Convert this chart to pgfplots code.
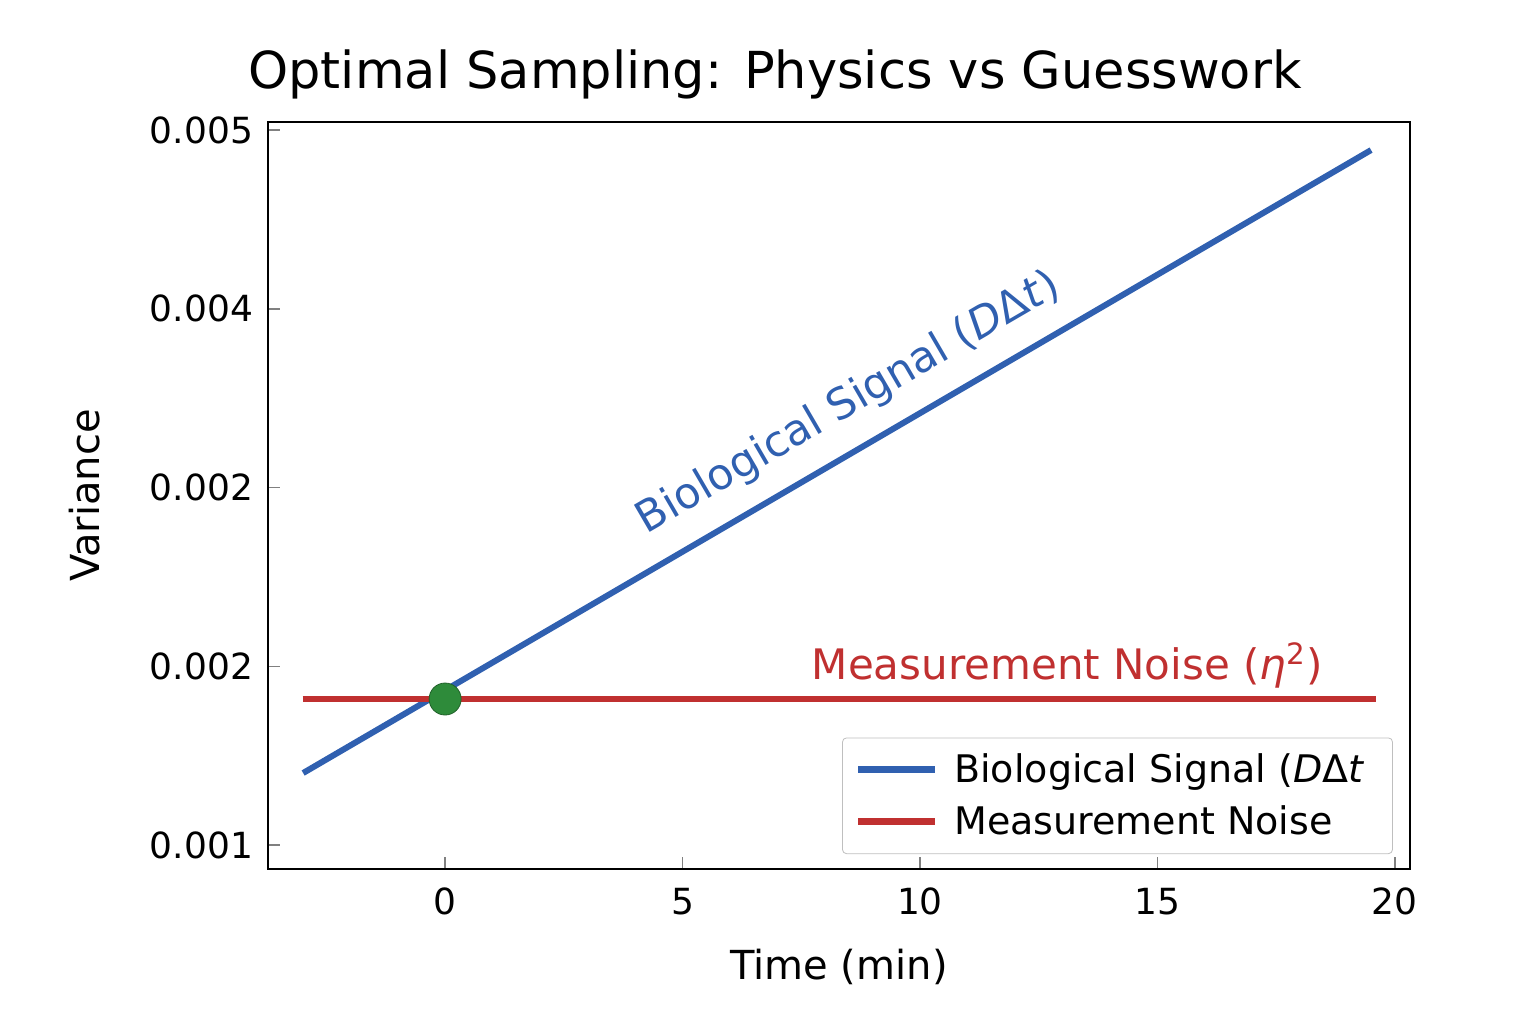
\documentclass[border=0pt]{standalone}
\usepackage{pgfplots}
\pgfplotsset{compat=1.18}
\usepackage{fontspec}
\setmainfont{DejaVu Sans}
\definecolor{bl}{HTML}{3060B0}
\definecolor{rd}{HTML}{C03030}
\definecolor{gr}{HTML}{2E8B3A}
\begin{document}
\begin{tikzpicture}
\begin{axis}[
  scale only axis, width=571pt, height=373.5pt,
  xmin=-3.73, xmax=20.32, ymin=0.000866, ymax=0.005045,
  xtick={0,5,10,15,20},
  ytick={0.001,0.002,0.003,0.004,0.005},
  yticklabels={0.001,0.002,0.002,0.004,0.005},
  xticklabels={0,5,10,15,20},
  scaled y ticks=false,
  axis line style={line width=1pt},
  tick align=inside, tick pos=left,
  major tick style={line width=0.8pt},
  major tick length=6pt,
  ticklabel style={font=\fontsize{18}{21}\selectfont},
  xticklabel style={yshift=-6pt},
  yticklabel style={xshift=-4pt},
  /pgf/number format/assume math mode=true,
  title={Optimal Sampling: Physics vs Guesswork},
  title style={font=\fontsize{25.5}{30}\selectfont, xshift=-32pt, yshift=2pt},
  xlabel={Time (min)}, ylabel={Variance},
  xlabel style={font=\fontsize{20}{24}\selectfont, yshift=-10pt},
  ylabel style={font=\fontsize{20}{24}\selectfont, yshift=18pt},
  legend style={at={(0.985,0.02)}, anchor=south east, font=\fontsize{19}{23}\selectfont, draw=black!25, rounded corners=2pt, row sep=6pt, inner xsep=6pt, inner ysep=6pt},
  legend cell align=left,
  legend image code/.code={\draw[#1, line width=3.5pt] (0pt,0pt) -- (1.35cm,0pt);},
  legend style={nodes={inner xsep=8pt}},
]
\addplot[bl, line width=3pt] coordinates {(-2.99,0.001403) (19.5,0.004888)};
\addlegendentry{Biological Signal (\textit{D}Δ\textit{t}}
\addplot[rd, line width=3pt] coordinates {(-3.0,0.001817) (19.6,0.001817)};
\addlegendentry{Measurement Noise}
\addplot[only marks, mark=*, mark size=8pt, gr, mark options={draw=gr!70!black}, forget plot] coordinates {(0,0.001817)};
\node[bl, rotate=30.2, font=\fontsize{21.5}{25}\selectfont] at (axis cs:8.5,0.00347) {Biological Signal (\textit{D}Δ\textit{t})};
\node[rd, font=\fontsize{21}{25}\selectfont] at (axis cs:13.1,0.002007) {Measurement Noise (\textit{η}\textsuperscript{2})};
\end{axis}
\useasboundingbox ([shift={(-134pt,-77.5pt)}]current axis.south west) rectangle ([shift={(634pt,434.5pt)}]current axis.south west);
\end{tikzpicture}
\end{document}
